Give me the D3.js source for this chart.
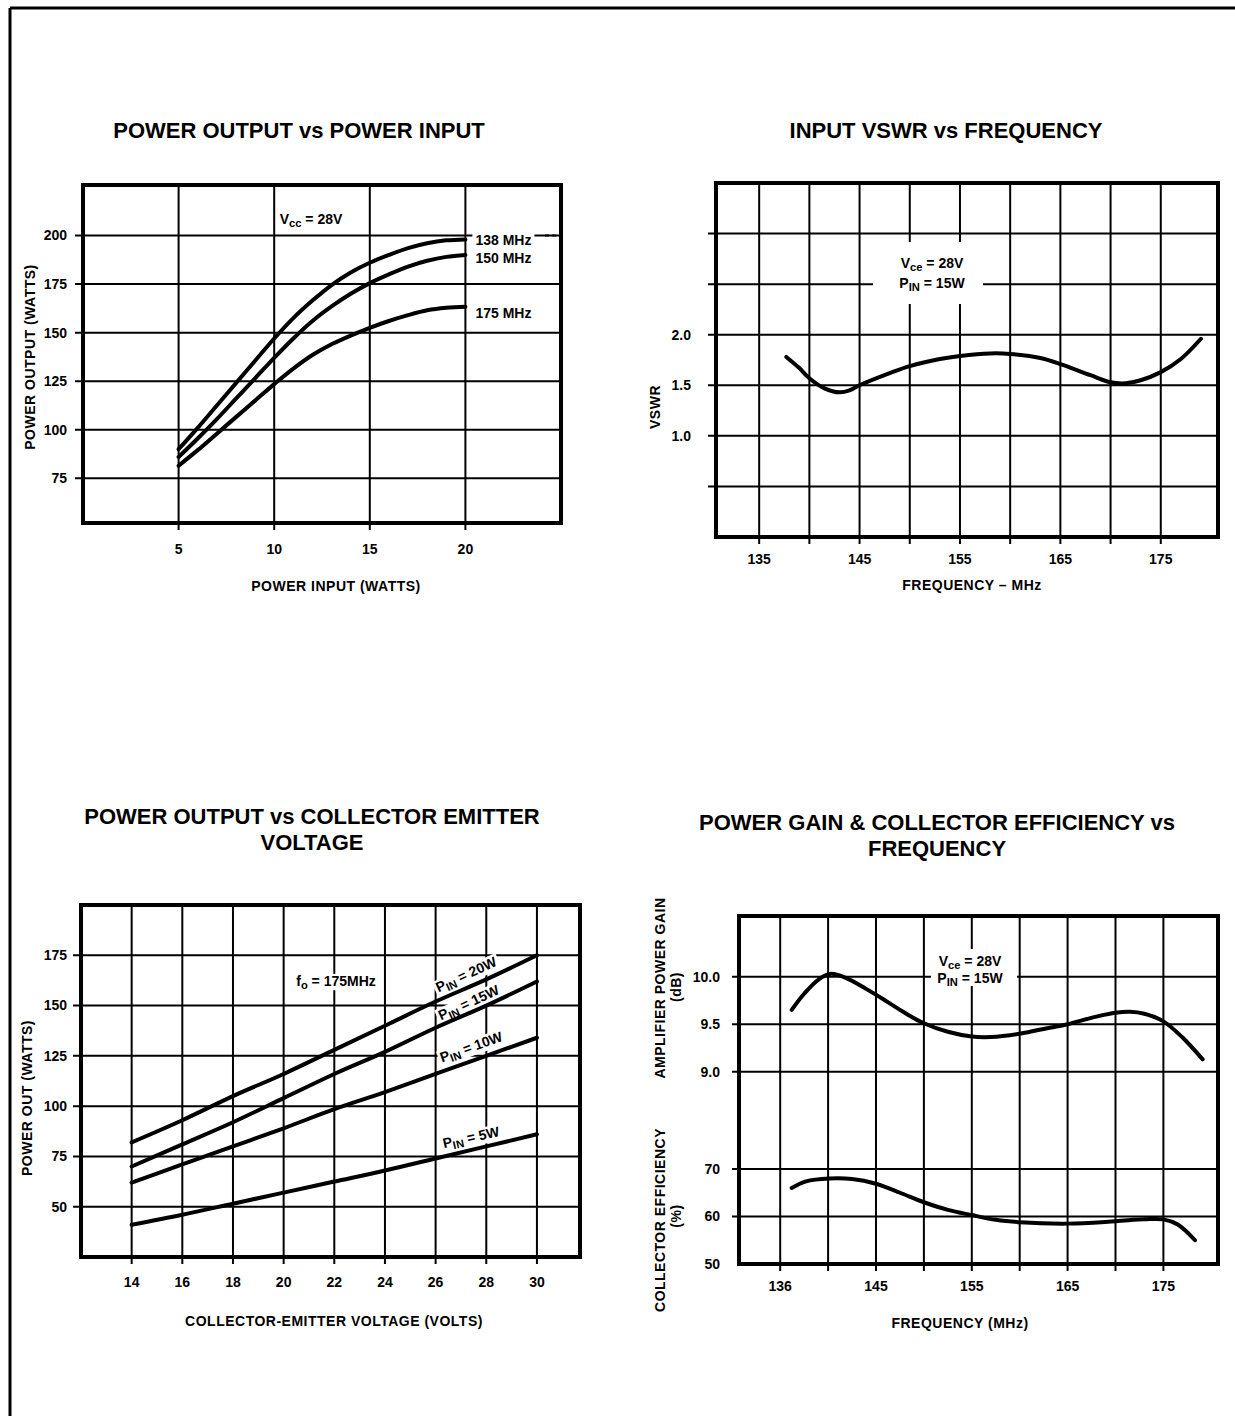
<!DOCTYPE html>
<html><head><meta charset="utf-8">
<script src="https://cdn.jsdelivr.net/npm/d3@7"></script>
<style>
body{margin:0;background:#fff}
text{font-family:"Liberation Sans",Arial,Helvetica,sans-serif;font-weight:bold;fill:#000}
</style>
</head><body>
<script>
// ---------------- DATA ----------------
// Panel 1: Power output vs power input
const p1Input  = [5,6,7,8,9,10,11,12,13,14,15,16,17,18,19,20];
const p1Out138 = [90,101,112.5,124,135.5,147,157.5,166.5,174.5,181,186,190,193.5,196,197.5,198];
const p1Out150 = [86,95.5,105.5,116,126.5,137,147,156,163.5,170,175.5,180,184,187,189,190];
const p1Out175 = [81.5,89.5,98,106.5,115,123.5,131.5,138.5,144,148.5,152.5,156,159,161.5,162.8,163.3];
const p1Series = ["138 MHz","150 MHz","175 MHz"];
const p1XTicks = [5,10,15,20];
const p1YTicks = [75,100,125,150,175,200];

// Panel 2: Input VSWR vs frequency
const vswrFreq = [137.7,139,140,141.5,143,144,145,148,150,153,155,158,160,163,165,168,170,171.5,173,175,177,179];
const vswrVal  = [1.78,1.67,1.57,1.47,1.43,1.45,1.50,1.62,1.69,1.76,1.79,1.815,1.81,1.77,1.71,1.60,1.53,1.52,1.55,1.63,1.76,1.96];
const p2XGrid  = [135,140,145,150,155,160,165,170,175];
const p2XTicks = [135,145,155,165,175];
const p2YGrid  = [0.5,1.0,1.5,2.0,2.5,3.0];
const p2YTicks = [1.0,1.5,2.0];

// Panel 3: Power output vs collector-emitter voltage
const vce     = [14,16,18,20,22,24,26,28,30];
const pin20W  = [82,93,105,116,128,140,152,163,175];
const pin15W  = [70,81,92,104,116,127,139,150,162];
const pin10W  = [62,71,80,89,98.5,107,116,125,134];
const pin5W   = [41,46,51.5,57,62.5,68,74,80,86];
const p3Labels = ["20W","15W","10W","5W"];
const p3XTicks = [14,16,18,20,22,24,26,28,30];
const p3YTicks = [50,75,100,125,150,175];

// Panel 4: Power gain & collector efficiency vs frequency
const gainFreq = [136.2,137.5,139,140.3,142,145,148,150,152.5,155,157,160,163,165,168,170,171.5,173,175,177,179.1];
const gainDb   = [9.65,9.82,9.97,10.03,9.98,9.81,9.62,9.51,9.42,9.37,9.365,9.40,9.46,9.50,9.58,9.62,9.63,9.61,9.53,9.36,9.13];
const effFreq  = [136.2,137.7,140.1,142.5,145,147.5,150,152.5,155,157.5,160,165,170,173,175,176.5,178.3];
const effPct   = [66.0,67.4,68.0,67.9,66.9,65.0,63.0,61.4,60.3,59.3,58.8,58.5,59.0,59.4,59.4,58.3,55.0];
const p4XGrid  = [135,140,145,150,155,160,165,170,175];
const p4XTicks = [135,145,155,165,175];
const p4XTickLabels = ["136","145","155","165","175"];
const p4GainTicks = [9.0,9.5,10.0];
const p4EffTicks  = [50,60,70];

// ---------------- DRAWING ----------------
const W = 1235, H = 1427;
const TICK = 14, AXT = 14, NOTE = 14;
const svg = d3.select("body").append("svg").attr("width", W).attr("height", H);

// outer border (top and left)
svg.append("line").attr("x1",10).attr("y1",8).attr("x2",W).attr("y2",8).attr("stroke","#000").attr("stroke-width",3);
svg.append("line").attr("x1",10).attr("y1",8).attr("x2",10).attr("y2",1416).attr("stroke","#000").attr("stroke-width",3);

function title(lines, cx, y0) {
  lines.forEach((t,i)=>svg.append("text").attr("x",cx).attr("y",y0+i*26)
    .attr("text-anchor","middle").style("font-size","22px").text(t));
}
function grid(g, x, y, xGrid, yGrid, tickLen) {
  const [x0,x1] = x.range(); const yb = y.range()[0], yt = y.range()[1];
  xGrid.forEach(v=>g.append("line").attr("x1",x(v)).attr("x2",x(v)).attr("y1",yt).attr("y2",yb+7)
    .attr("stroke","#000").attr("stroke-width",2));
  yGrid.forEach(([sc,v])=>g.append("line").attr("x1",x0-(tickLen||8)).attr("x2",x1).attr("y1",sc(v)).attr("y2",sc(v))
    .attr("stroke","#000").attr("stroke-width",2));
}
function frame(g, x, y) {
  const [x0,x1] = x.range(); const yb = y.range()[0], yt = y.range()[1];
  g.append("rect").attr("x",x0).attr("y",yt).attr("width",x1-x0).attr("height",yb-yt)
    .attr("fill","none").attr("stroke","#000").attr("stroke-width",4);
}
function curve(g, xs, ys, x, y, w) {
  const line = d3.line().x((d,i)=>x(xs[i])).y(d=>y(d)).curve(d3.curveCatmullRom.alpha(0.5));
  g.append("path").attr("d", line(ys)).attr("fill","none").attr("stroke","#000")
    .attr("stroke-width", w||4).attr("stroke-linecap","round");
}
function xLabels(g, x, vals, labels, yPos) {
  vals.forEach((v,i)=>g.append("text").attr("x",x(v)).attr("y",yPos).attr("dy","0.35em")
    .attr("text-anchor","middle").style("font-size",TICK+"px").text(labels? labels[i] : v));
}
function yLabels(g, y, vals, fmt, xPos) {
  vals.forEach(v=>g.append("text").attr("x",xPos).attr("y",y(v)).attr("dy","0.35em")
    .attr("text-anchor","end").style("font-size",TICK+"px").text(fmt(v)));
}
function axisTitle(g, t, cx, cy, rot) {
  g.append("text").attr("transform",`translate(${cx},${cy})`+(rot?" rotate(-90)":""))
    .attr("text-anchor","middle").attr("dy","0.35em").style("font-size",AXT+"px")
    .style("letter-spacing","0.5px").text(t);
}
// text with optional white background; parts = [[text, "sub"?], ...]
function note(bgLayer, txtLayer, parts, x, y, anchor, rotate, pad) {
  const tr = `translate(${x},${y})`+(rotate?` rotate(${rotate})`:"");
  const t = txtLayer.append("text").attr("transform",tr).attr("text-anchor",anchor||"middle")
    .attr("dy","0.35em").style("font-size",NOTE+"px");
  parts.forEach(p=>{
    const ts = t.append("tspan").text(p[0]);
    if (p[1]==="sub") ts.attr("baseline-shift","-30%").style("font-size",(NOTE*0.8)+"px");
  });
  if (pad != null) {
    const bb = t.node().getBBox();
    bgLayer.append("rect").attr("transform",tr).attr("fill","#fff")
      .attr("x",bb.x-pad).attr("y",bb.y+1).attr("width",bb.width+2*pad).attr("height",bb.height-2);
  }
}
function layers() {
  const g = svg.append("g");
  return {g, grid:g.append("g"), bg:g.append("g"), data:g.append("g"), txt:g.append("g")};
}

// ===== Panel 1 =====
{
  title(["POWER OUTPUT vs POWER INPUT"], 299, 138);
  const L = layers();
  const x = d3.scaleLinear().domain([0,25]).range([83,561]);
  const y = d3.scaleLinear().domain([52,226]).range([523,185]);
  grid(L.grid, x, y, p1XTicks, p1YTicks.map(v=>[y,v]));
  L.grid.append("line").attr("x1",545).attr("x2",561).attr("y1",y(200)).attr("y2",y(200))
    .attr("stroke","#000").attr("stroke-width",2).attr("stroke-dasharray","4,3");
  [p1Out138,p1Out150,p1Out175].forEach(s=>curve(L.data, p1Input, s, x, y, 4));
  const offs = [1, 3, 6];
  [p1Out138,p1Out150,p1Out175].forEach((s,i)=>{
    note(L.bg, L.txt, [[p1Series[i]]], x(20)+10, y(s[s.length-1]) + offs[i], "start", 0, 3);
  });
  note(L.bg, L.txt, [["V"],["cc","sub"],[" = 28V"]], 311, 219, "middle", 0, 2);
  frame(L.g, x, y);
  xLabels(L.g, x, p1XTicks, null, 549);
  yLabels(L.g, y, p1YTicks, d=>d, 67);
  axisTitle(L.g, "POWER OUTPUT (WATTS)", 30, 357, true);
  axisTitle(L.g, "POWER INPUT (WATTS)", 336, 586, false);
}

// ===== Panel 2 =====
{
  title(["INPUT VSWR vs FREQUENCY"], 946, 138);
  const L = layers();
  const x = d3.scaleLinear().domain([130.7,180.7]).range([716,1218]);
  const y = d3.scaleLinear().domain([0,3.5]).range([537,183]);
  grid(L.grid, x, y, p2XGrid, p2YGrid.map(v=>[y,v]));
  L.bg.append("rect").attr("x",873).attr("y",242).attr("width",110).attr("height",62).attr("fill","#fff");
  note(L.bg, L.txt, [["V"],["ce","sub"],[" = 28V"]], 932, 263, "middle");
  note(L.bg, L.txt, [["P"],["IN","sub"],[" = 15W"]], 932, 283, "middle");
  curve(L.data, vswrFreq, vswrVal, x, y, 4);
  frame(L.g, x, y);
  xLabels(L.g, x, p2XTicks, null, 559);
  yLabels(L.g, y, p2YTicks, d3.format(".1f"), 691);
  axisTitle(L.g, "VSWR", 655, 407, true);
  axisTitle(L.g, "FREQUENCY \u2013 MHz", 972, 585, false);
}

// ===== Panel 3 =====
{
  title(["POWER OUTPUT vs COLLECTOR EMITTER","VOLTAGE"], 312, 824);
  const L = layers();
  const x = d3.scaleLinear().domain([12,31.7]).range([81,580]);
  const y = d3.scaleLinear().domain([25,200]).range([1257,905]);
  grid(L.grid, x, y, p3XTicks, p3YTicks.map(v=>[y,v]));
  const series = [pin20W,pin15W,pin10W,pin5W];
  series.forEach(s=>curve(L.data, vce, s, x, y, 4));
  note(L.bg, L.txt, [["f"],["o","sub"],[" = 175MHz"]], 336, 981, "middle", 0, 3);
  const labelPos = [[27.2,165.5],[27.3,151.5],[27.4,129.5],[27.4,84.5]];
  series.forEach((s,i)=>{
    const ang = -Math.atan2(y(s[0])-y(s[8]), x(30)-x(14))*180/Math.PI;
    note(L.bg, L.txt, [["P"],["IN","sub"],[" = "+p3Labels[i]]], x(labelPos[i][0]), y(labelPos[i][1]), "middle", ang, 2);
  });
  frame(L.g, x, y);
  xLabels(L.g, x, p3XTicks, null, 1282);
  yLabels(L.g, y, p3YTicks, d=>d, 67);
  axisTitle(L.g, "POWER OUT (WATTS)", 27, 1098, true);
  axisTitle(L.g, "COLLECTOR-EMITTER VOLTAGE (VOLTS)", 334, 1321, false);
}

// ===== Panel 4 =====
{
  title(["POWER GAIN & COLLECTOR EFFICIENCY vs","FREQUENCY"], 937, 830);
  const L = layers();
  const x = d3.scaleLinear().domain([130.7,180.7]).range([739,1218]);
  const yGain = d3.scaleLinear().domain([9.0,10.0]).range([1071.7,976.7]);
  const yEff  = d3.scaleLinear().domain([50,70]).range([1264,1169]);
  const yFrame = d3.scaleLinear().domain([0,1]).range([1264,916]);
  grid(L.grid, x, yFrame, p4XGrid, [...p4GainTicks.map(v=>[yGain,v]), [yEff,60],[yEff,70]], 7);
  L.bg.append("rect").attr("x",931).attr("y",949).attr("width",86).attr("height",37).attr("fill","#fff");
  note(L.bg, L.txt, [["V"],["ce","sub"],[" = 28V"]], 970, 961, "middle");
  note(L.bg, L.txt, [["P"],["IN","sub"],[" = 15W"]], 970, 978, "middle");
  curve(L.data, gainFreq, gainDb, x, yGain, 4);
  curve(L.data, effFreq, effPct, x, yEff, 4);
  frame(L.g, x, yFrame);
  xLabels(L.g, x, p4XTicks, p4XTickLabels, 1286);
  yLabels(L.g, yGain, p4GainTicks, d3.format(".1f"), 720);
  yLabels(L.g, yEff, p4EffTicks, d=>d, 720);
  axisTitle(L.g, "AMPLIFIER POWER GAIN", 660, 988, true);
  axisTitle(L.g, "(dB)", 676, 987, true);
  axisTitle(L.g, "COLLECTOR EFFICIENCY", 660, 1220, true);
  axisTitle(L.g, "(%)", 676, 1216, true);
  axisTitle(L.g, "FREQUENCY (MHz)", 960, 1323, false);
}
</script>
</body></html>
